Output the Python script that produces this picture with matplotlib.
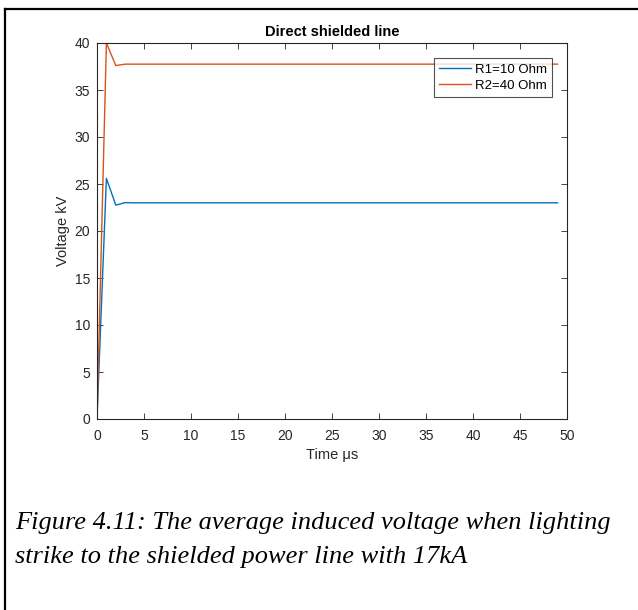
import matplotlib
matplotlib.use("Agg")
import matplotlib.pyplot as plt
from matplotlib.lines import Line2D
import numpy as np

t = list(range(0, 50))
v_r1_head = [0, 25.6, 22.75, 23.02]
v_r1_tail = 23.0
v_r2_head = [0, 40.0, 37.6, 37.75]
v_r2_tail = 37.75
v_r1 = v_r1_head + [v_r1_tail] * (len(t) - len(v_r1_head))
v_r2 = v_r2_head + [v_r2_tail] * (len(t) - len(v_r2_head))

labels = ["R1=10 Ohm", "R2=40 Ohm"]
title = "Direct shielded line"
xlabel = "Time \u03bcs"
ylabel = "Voltage kV"
caption_lines = ["Figure 4.11: The average induced voltage when lighting",
                 "strike to the shielded power line with 17kA"]

plt.rcParams['font.family'] = ['Liberation Sans', 'DejaVu Sans']

W, H = 638, 610
fig = plt.figure(figsize=(W / 100, H / 100), dpi=100)
ax = fig.add_axes([97 / W, 1 - 419 / H, (567 - 97) / W, (419 - 43) / H])

ax.plot(t, v_r1, color='#0072BD', lw=1.0, label=labels[0])
ax.plot(t, v_r2, color='#D95319', lw=1.0, label=labels[1])

ax.set_xlim(0, 50)
ax.set_ylim(0, 40)
ax.set_xticks(range(0, 51, 5))
ax.set_yticks(range(0, 41, 5))
ax.tick_params(direction='in', top=True, right=True, length=4, width=0.6,
               labelsize=10, colors='#262626')
ax.tick_params(axis='x', pad=7)
ax.tick_params(axis='y', pad=5)
for s in ax.spines.values():
    s.set_color('#262626')
    s.set_linewidth(0.8)
ax.set_title(title, fontsize=10.5, fontweight='bold', color='black', pad=5)
ax.set_xlabel(xlabel, fontsize=10.5, color='#262626', labelpad=4)
ax.set_ylabel(ylabel, fontsize=10.5, color='#262626', labelpad=3)

leg = ax.legend(loc='upper right', fontsize=9.5, frameon=True, fancybox=False,
                edgecolor='#262626', borderpad=0.4, handlelength=2.4,
                handletextpad=0.3, labelspacing=0.3,
                bbox_to_anchor=((552 - 97) / 470, (419 - 58) / 376),
                borderaxespad=0.0)
leg.get_frame().set_linewidth(0.8)

for i, line in enumerate(caption_lines):
    fig.text(15 / W, 1 - (529 + 34 * i) / H, line, fontsize=19,
             family='Liberation Serif', style='italic', va='baseline', ha='left')

# page frame lines (top and left)
fig.add_artist(Line2D([4.5 / W, 1], [1 - 8.5 / H, 1 - 8.5 / H], color='black', lw=1.6,
                      transform=fig.transFigure))
fig.add_artist(Line2D([4.5 / W, 4.5 / W], [1 - 8.5 / H, 0], color='black', lw=1.6,
                      transform=fig.transFigure))

fig.savefig('out.png', dpi=100, facecolor='white')
